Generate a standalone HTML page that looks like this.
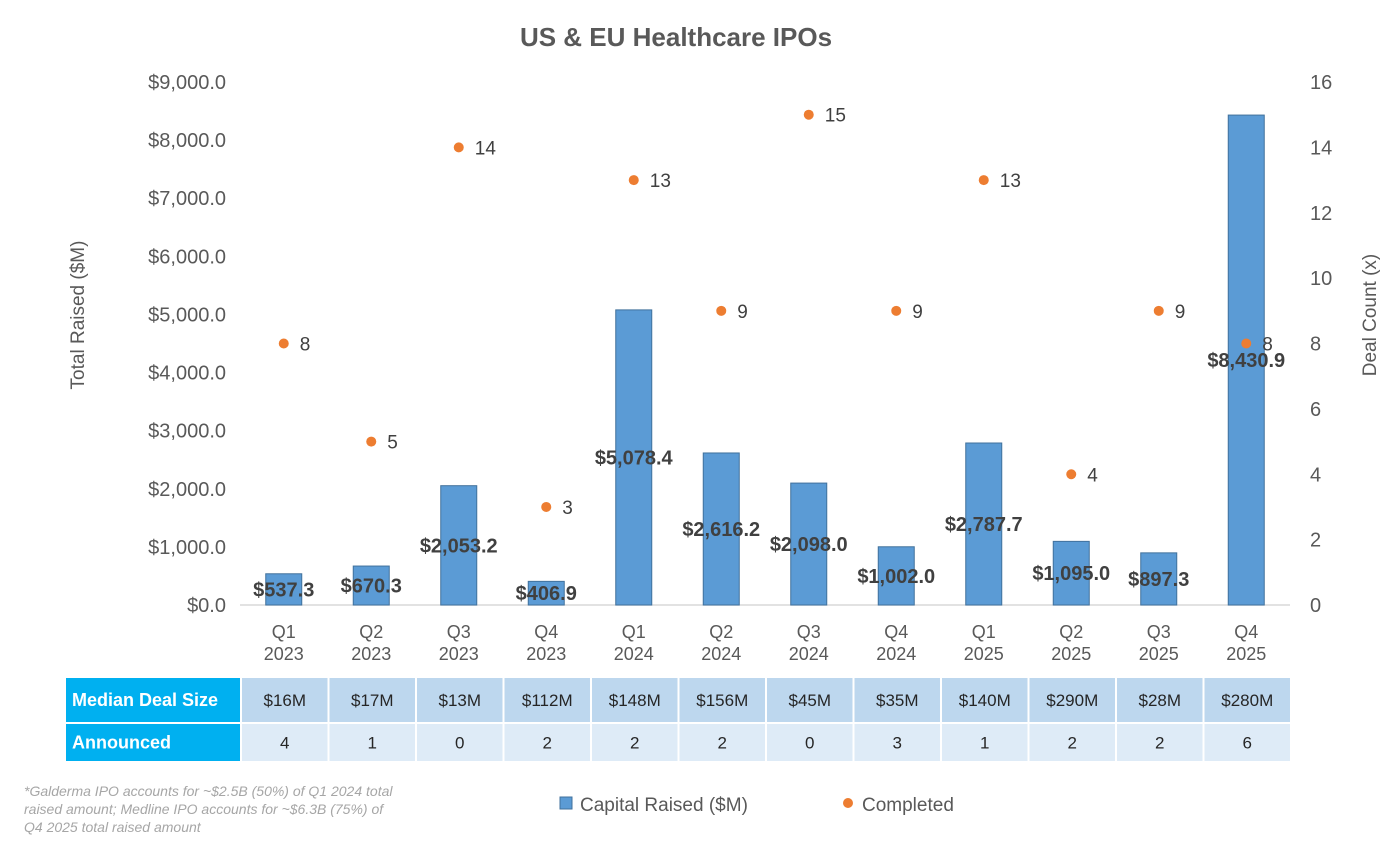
<!DOCTYPE html>
<html><head><meta charset="utf-8"><style>
body{margin:0;background:#fff;font-family:"Liberation Sans",sans-serif;}
svg text{font-family:"Liberation Sans",sans-serif;}
</style></head><body>
<svg id="c" width="1392" height="860" viewBox="0 0 1392 860">
<text x="676" y="46" text-anchor="middle" font-size="26" font-weight="bold" fill="#595959">US &amp; EU Healthcare IPOs</text>
<text transform="translate(84,315) rotate(-90)" text-anchor="middle" font-size="19" fill="#595959">Total Raised ($M)</text>
<text transform="translate(1376,315) rotate(-90)" text-anchor="middle" font-size="19" fill="#595959">Deal Count (x)</text>
<g id="axes"></g><g id="bars"></g><g id="dots"></g><g id="tbl"></g>
<text x="24" y="796" font-size="14" font-style="italic" fill="#a6a6a6"><tspan x="24" dy="0">*Galderma IPO accounts for ~$2.5B (50%) of Q1 2024 total</tspan><tspan x="24" dy="18">raised amount; Medline IPO accounts for ~$6.3B (75%) of</tspan><tspan x="24" dy="18">Q4 2025 total raised amount</tspan></text>
<g><rect x="560" y="797" width="12" height="12" fill="#5b9bd5" stroke="#41719c"/><text x="580" y="811" font-size="19" fill="#595959">Capital Raised ($M)</text></g>
<g><circle cx="848" cy="803" r="5" fill="#ed7d31"/><text x="862" y="811" font-size="19" fill="#595959">Completed</text></g>
</svg>
<script>
const quarters=["Q1","Q2","Q3","Q4","Q1","Q2","Q3","Q4","Q1","Q2","Q3","Q4"];
const years=["2023","2023","2023","2023","2024","2024","2024","2024","2025","2025","2025","2025"];
const capital=[537.3,670.3,2053.2,406.9,5078.4,2616.2,2098.0,1002.0,2787.7,1095.0,897.3,8430.9];
const completed=[8,5,14,3,13,9,15,9,13,4,9,8];
const medianDeal=["$16M","$17M","$13M","$112M","$148M","$156M","$45M","$35M","$140M","$290M","$28M","$280M"];
const announced=["4","1","0","2","2","2","0","3","1","2","2","6"];
const leftTicks=[0,1000,2000,3000,4000,5000,6000,7000,8000,9000];
const rightTicks=[0,2,4,6,8,10,12,14,16];
const NS="http://www.w3.org/2000/svg";
const x0=240,x1=1290,y0=605,yTop=82;
const bw=(x1-x0)/quarters.length;
const xc=i=>x0+bw*(i+0.5);
const yL=v=>y0-(v/9000)*(y0-yTop);
const yR=v=>y0-(v/16)*(y0-yTop);
function mk(t,a,p,txt){const e=document.createElementNS(NS,t);for(const k in a)e.setAttribute(k,a[k]);if(txt!==undefined)e.textContent=txt;p.appendChild(e);return e;}
const fmt=v=>"$"+v.toLocaleString("en-US",{minimumFractionDigits:1,maximumFractionDigits:1});
const ax=document.getElementById("axes");
leftTicks.forEach(v=>{const t=mk("text",{x:226,y:yL(v)+7,"text-anchor":"end","font-size":20,fill:"#595959"},ax,fmt(v));

});
rightTicks.forEach(v=>{const t=mk("text",{x:1310,y:yR(v)+7,"font-size":20,fill:"#595959"},ax,String(v));

});
const axl=mk("line",{x1:x0,x2:x1,y1:y0,y2:y0,stroke:"#d9d9d9","stroke-width":1.5},ax);


quarters.forEach((q,i)=>{const t=mk("text",{x:xc(i),y:638,"text-anchor":"middle","font-size":18,fill:"#595959"},ax);


mk("tspan",{x:xc(i),dy:0},t,q);mk("tspan",{x:xc(i),dy:22},t,years[i]);});
const bg=document.getElementById("bars");
capital.forEach((v,i)=>{const r=mk("rect",{x:xc(i)-18,y:yL(v),width:36,height:y0-yL(v),fill:"#5b9bd5",stroke:"#41719c","stroke-width":1},bg);


const t=mk("text",{x:xc(i),y:(yL(v)+y0)/2+7,"text-anchor":"middle","font-size":20,"font-weight":"bold",fill:"#404040"},bg,fmt(v));

});
const dg=document.getElementById("dots");
completed.forEach((v,i)=>{const c=mk("circle",{cx:xc(i),cy:yR(v),r:5,fill:"#ed7d31"},dg);


const t=mk("text",{x:xc(i)+16,y:yR(v)+7,"font-size":19,fill:"#404040"},dg,String(v));

});
const tg=document.getElementById("tbl");
[["Median Deal Size",medianDeal,678,44,"#bdd7ee"],["Announced",announced,724,37,"#deebf7"]].forEach(([lab,arr,y,h,col])=>{
const hr=mk("rect",{x:66,y:y,width:174,height:h,fill:"#00b0f0"},tg);


mk("text",{x:72,y:y+h/2+6,"font-size":18,"font-weight":"bold",fill:"#fff"},tg,lab);
arr.forEach((s,i)=>{const r=mk("rect",{x:x0+2+bw*i,y:y,width:bw-2,height:h,fill:col},tg);


mk("text",{x:xc(i)+1,y:y+h/2+6,"text-anchor":"middle","font-size":17,fill:"#262626"},tg,s);});});
</script>
</body></html>
